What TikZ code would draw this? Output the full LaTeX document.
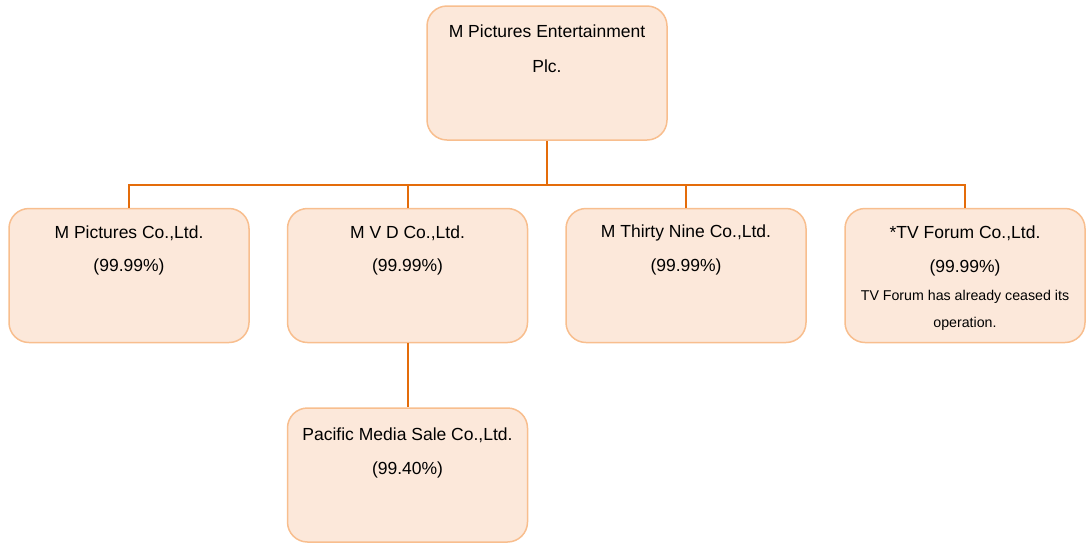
\documentclass[tikz,border=0pt]{standalone}
\usepackage{fontspec}
\setmainfont{Liberation Sans}
\definecolor{boxfill}{HTML}{FCE8DA}
\definecolor{boxline}{HTML}{F8BE8E}
\definecolor{conn}{HTML}{E46C0A}
\begin{document}
\begin{tikzpicture}[x=1pt,y=-1pt,
  orgbox/.style={draw=boxline, fill=boxfill, line width=1.5pt, rounded corners=20pt,
    minimum width=240pt, minimum height=134pt, inner sep=0pt},
  big/.style={font=\fontsize{17.5}{19}\selectfont, text=black, inner sep=0pt},
  small/.style={font=\fontsize{14.2}{16}\selectfont, text=black, inner sep=0pt},
  link/.style={draw=conn, line width=2pt}]
\useasboundingbox (0,0) rectangle (1086,542);
\node[orgbox] (top) at (547,73) {};
\node[orgbox] (b1) at (129,275.5) {};
\node[orgbox] (b2) at (407.5,275.5) {};
\node[orgbox] (b3) at (686,275.5) {};
\node[orgbox] (b4) at (965,275.5) {};
\node[orgbox] (b5) at (407.5,475) {};
\coordinate (bus) at (547,185);
% texts
\node[big] (t0a) at (547,31) {M Pictures Entertainment};
\node[big] (t0b) at (547,66) {Plc.};
\node[big] (t1a) at (129,233) {M Pictures Co.,Ltd.};
\node[big] (t1b) at (129,267) {(99.99\%)};
\node[big] (t2a) at (407.5,233) {M V D Co.,Ltd.};
\node[big] (t2b) at (407.5,267) {(99.99\%)};
\node[big] (t3a) at (686,233) {M Thirty Nine Co.,Ltd.};
\node[big] (t3b) at (686,267) {(99.99\%)};
\node[big] (t4a) at (965,233) {*TV Forum Co.,Ltd.};
\node[big] (t4b) at (965,268) {(99.99\%)};
\node[small] (t4c) at (965,297) {TV Forum has already ceased its};
\node[small] (t4d) at (965,324) {operation.};
\node[big] (t5a) at (407.5,435) {Pacific Media Sale Co.,Ltd.};
\node[big] (t5b) at (407.5,470) {(99.40\%)};
% connectors
\draw[link] (top.south) -- (bus);
\draw[link] (b1.north) |- (bus);
\draw[link] (b2.north) |- (bus);
\draw[link] (b3.north) |- (bus);
\draw[link] (b4.north) |- (bus);
\draw[link] (b2.south) -- (b5.north);
\end{tikzpicture}
\end{document}
